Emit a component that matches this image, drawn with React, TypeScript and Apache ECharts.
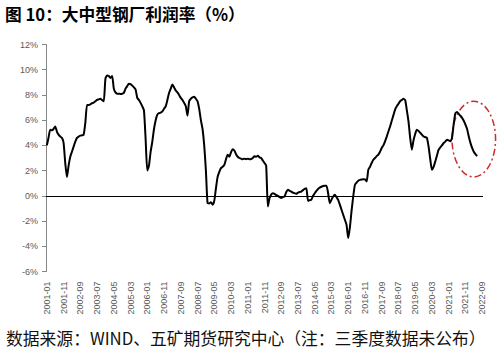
import React, { useEffect, useRef } from "react";
import * as echarts from "echarts";

const titleText = "图 10：大中型钢厂利润率（%）";
const sourceText = "数据来源：WIND、五矿期货研究中心（注：三季度数据未公布）";

// Monthly categories 2001-01 .. 2022-09
const months: string[] = [];
for (let y = 2001; y <= 2022; y++) {
  for (let m = 1; m <= 12; m++) {
    if (y === 2022 && m > 9) break;
    months.push(`${y}-${String(m).padStart(2, "0")}`);
  }
}

const yTicks = { min: -6, max: 12, interval: 2 };

// Profit rate (%) by month
const profitRate: (number | null)[] = [
  // 2001
  4.0, 4.6, 5.25, 5.2, 5.3, 5.5, 5.1, 4.85, 4.7, 4.6, 4.2, 2.6,
  // 2002
  1.5, 2.4, 3.1, 3.5, 3.9, 4.3, 4.6, 4.7, 4.77, 4.8, 4.85, 5.8,
  // 2003
  7.2, 7.2, 7.25, 7.35, 7.4, 7.5, 7.6, 7.65, 7.7, 7.6, 7.5, 9.3,
  // 2004
  9.55, 9.5, 9.35, 9.5, 8.5, 8.2, 8.1, 8.1, 8.08, 8.1, 8.16, 8.5,
  // 2005
  8.7, 8.88, 8.85, 8.74, 8.6, 8.43, 7.77, 7.6, 7.37, 7.1, 6.78, 4.5,
  // 2006
  2.0, 2.4, 3.5, 4.3, 5.3, 6.0, 6.44, 6.55, 6.6, 6.7, 6.9, 7.1,
  // 2007
  7.6, 8.16, 8.5, 8.82, 8.6, 8.35, 8.2, 8.0, 7.77, 7.6, 7.37, 7.1,
  // 2008
  6.36, 7.5, 7.7, 7.8, 7.85, 7.7, 7.5, 6.9, 6.0, 5.3, 4.0, 2.0,
  // 2009
  -0.58, -0.6, -0.5, -0.7, -0.4, 0.6, 1.5, 1.9, 2.2, 2.3, 2.45, 2.9,
  // 2010
  3.26, 3.1, 3.45, 3.7, 3.6, 3.3, 3.1, 3.0, 2.95, 2.9, 2.95, 2.9,
  // 2011
  2.95, 2.9, 2.92, 3.0, 3.13, 3.1, 3.18, 3.05, 3.0, 2.8, 2.6, 2.4,
  // 2012
  -0.85, -0.2, 0.1, 0.2, 0.15, 0.05, 0.0, -0.1, -0.18, -0.1, -0.05, 0.3,
  // 2013
  0.48, 0.4, 0.34, 0.25, 0.2, 0.16, 0.25, 0.3, 0.34, 0.45, 0.55, 0.61,
  // 2014
  -0.4, -0.35, -0.3, 0.0, 0.21, 0.4, 0.55, 0.65, 0.72, 0.78, 0.8, 0.8,
  // 2015
  0.2, -0.58, -0.3, -0.05, 0.08, -0.1, -0.32, -0.7, -1.1, -1.5, -1.9, -2.3,
  // 2016
  -3.35, -2.5, -1.2, -0.05, 0.87, 1.05, 1.2, 1.27, 1.3, 1.32, 1.3, 1.14,
  // 2017
  2.07, 2.3, 2.6, 2.86, 3.0, 3.15, 3.26, 3.5, 3.8, 4.0, 4.32, 4.7,
  // 2018
  5.1, 5.5, 5.95, 6.4, 6.84, 7.1, 7.3, 7.5, 7.6, 7.69, 7.6, 6.8,
  // 2019
  5.9, 4.6, 3.66, 4.4, 4.9, 5.25, 5.15, 5.0, 4.85, 4.7, 4.65, 4.6,
  // 2020
  3.9, 2.9, 2.07, 2.3, 2.73, 3.2, 3.66, 3.85, 4.0, 4.19, 4.3, 4.45,
  // 2021
  4.4, 4.32, 4.6, 5.7, 6.55, 6.65, 6.5, 6.35, 6.18, 5.95, 5.65, 5.3,
  // 2022 (Q3 not published)
  4.7, 4.2, 3.8, 3.5, 3.3, 3.15, null, null, null,
];

// Highlight ellipse bounds in data space: [left month, top value], [centre month, bottom value]
const ellipseTopLeft: [string, number] = ["2021-03", 7.5];
const ellipseCenterBottom: [string, number] = ["2022-04", 1.5];

export default function App() {
  const ref = useRef<HTMLDivElement>(null);

  useEffect(() => {
    if (!ref.current) return;
    const chart = echarts.init(ref.current, undefined, { renderer: "svg" });
    const labelColor = "#595959";
    chart.setOption({
      animation: false,
      backgroundColor: "#ffffff",
      title: [
        {
          text: titleText,
          left: 0,
          top: 1,
          textStyle: {
            fontSize: 16.7,
            fontWeight: "bold",
            color: "#000",
            fontFamily: "Noto Sans CJK SC",
          },
        },
        {
          text: sourceText,
          left: 1,
          top: 325,
          textStyle: {
            fontSize: 16.8,
            fontWeight: "normal",
            color: "#111",
            fontFamily: "Noto Sans CJK SC",
          },
        },
      ],
      grid: { left: 46, right: 17, top: 44.5, bottom: 80.5, containLabel: false },
      xAxis: {
        type: "category",
        data: months,
        boundaryGap: true,
        axisLine: { show: false },
        axisTick: { show: false },
        axisLabel: {
          interval: 9,
          rotate: 90,
          margin: 10,
          fontSize: 9,
          color: labelColor,
          fontFamily: "Liberation Sans",
        },
        splitLine: { show: false },
      },
      yAxis: {
        type: "value",
        min: yTicks.min,
        max: yTicks.max,
        interval: yTicks.interval,
        axisLine: { show: true, lineStyle: { color: "#868686", width: 1 } },
        axisTick: { show: true, length: 4, lineStyle: { color: "#868686" } },
        axisLabel: {
          formatter: "{value}%",
          fontSize: 9,
          color: labelColor,
          margin: 8,
          fontFamily: "Liberation Sans",
        },
        splitLine: { show: false },
      },
      series: [
        {
          type: "line",
          data: profitRate,
          smooth: 0.2,
          showSymbol: false,
          symbol: "none",
          connectNulls: false,
          lineStyle: { color: "#000", width: 2 },
          markLine: {
            silent: true,
            symbol: "none",
            label: { show: false },
            lineStyle: { color: "#000", width: 1, type: "solid" },
            data: [{ yAxis: 0 }],
          },
        },
      ],
    });

    const p1 = chart.convertToPixel({ xAxisIndex: 0, yAxisIndex: 0 }, ellipseTopLeft) as number[];
    const p2 = chart.convertToPixel({ xAxisIndex: 0, yAxisIndex: 0 }, ellipseCenterBottom) as number[];
    if (p1 && p2) {
      const cx = p2[0];
      const rx = p2[0] - p1[0];
      const cy = (p1[1] + p2[1]) / 2;
      const ry = (p2[1] - p1[1]) / 2;
      chart.setOption({
        graphic: [
          {
            type: "ellipse",
            shape: { cx, cy, rx, ry },
            style: {
              fill: "none",
              stroke: "#d02a2a",
              lineWidth: 1.5,
              lineDash: [7, 3, 2, 3],
            },
            silent: true,
          },
        ],
      });
    }

    return () => chart.dispose();
  }, []);

  return (
    <div
      ref={ref}
      style={{ position: "fixed", left: 0, top: 0, width: 500, height: 352, background: "#fff" }}
    />
  );
}
